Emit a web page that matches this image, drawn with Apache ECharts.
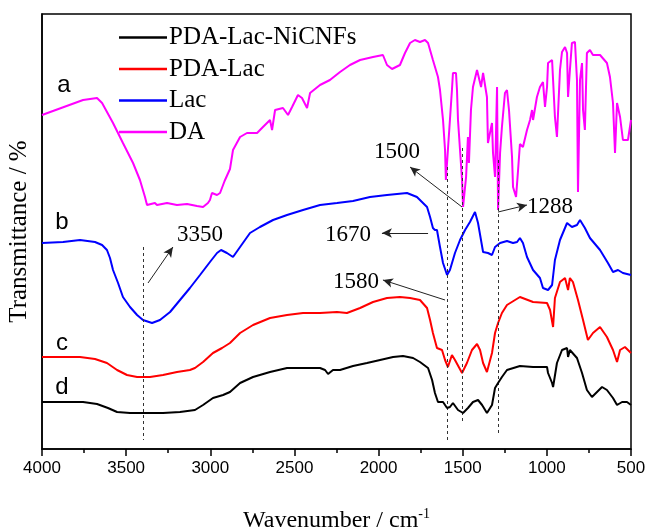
<!DOCTYPE html>
<html>
<head>
<meta charset="utf-8">
<script src="https://cdn.jsdelivr.net/npm/echarts@6/dist/echarts.min.js"></script>
<style>
  html, body { margin: 0; padding: 0; background: #fff; }
  #chart { width: 647px; height: 532px; }
</style>
</head>
<body>
<div id="chart"></div>
<script>
// spectra: [wavenumber, transmittance (arbitrary, offset per curve)]
const daSpectrum = [
  [4000, 334], [3756, 349], [3673, 351], [3643, 346], [3578, 326], [3519, 306], [3459, 286],
  [3418, 269], [3388, 252], [3376, 244], [3329, 246], [3317, 244], [3257, 246], [3198, 244],
  [3138, 245], [3079, 243], [3043, 242], [3014, 246], [3002, 249], [2990, 256], [2960, 254],
  [2942, 256], [2915, 268], [2883, 280], [2865, 299], [2823, 312], [2782, 316], [2722, 316],
  [2687, 322], [2645, 329], [2633, 319], [2615, 339], [2568, 341], [2538, 334], [2514, 342],
  [2479, 354], [2455, 351], [2425, 341], [2407, 356], [2348, 364], [2289, 369], [2229, 377],
  [2170, 384], [2110, 389], [2033, 392], [1974, 394], [1950, 384], [1920, 380], [1873, 384],
  [1843, 396], [1813, 406], [1784, 409], [1754, 407], [1724, 409], [1706, 406], [1677, 389],
  [1647, 372], [1635, 359], [1617, 329], [1605, 299], [1600, 269], [1588, 299], [1576, 329],
  [1564, 359], [1558, 376], [1540, 376], [1534, 359], [1528, 329], [1516, 299], [1504, 269],
  [1498, 242], [1480, 272], [1469, 312], [1463, 286], [1451, 339], [1439, 362], [1415, 379],
  [1409, 381], [1391, 362], [1379, 376], [1356, 352], [1350, 306], [1326, 326], [1320, 296],
  [1308, 272], [1296, 362], [1290, 239], [1278, 296], [1267, 322], [1249, 356], [1237, 359],
  [1225, 339], [1207, 292], [1201, 262], [1183, 252], [1171, 279], [1160, 305], [1142, 302],
  [1118, 319], [1100, 329], [1088, 339], [1082, 329], [1059, 352], [1041, 362], [1023, 367],
  [1011, 342], [999, 362], [993, 386], [969, 389], [963, 369], [952, 332], [940, 312],
  [922, 379], [910, 397], [892, 402], [880, 396], [874, 352], [863, 379], [851, 406],
  [833, 407], [821, 369], [815, 257], [803, 369], [791, 386], [785, 339], [774, 319],
  [762, 396], [744, 399], [726, 394], [684, 394], [643, 386], [625, 372], [607, 346],
  [595, 296], [583, 346], [565, 332], [548, 309], [518, 309], [500, 329]
];

const lacSpectrum = [
  [4000, 206], [3875, 207], [3774, 209], [3685, 207], [3643, 204], [3614, 199], [3596, 191],
  [3578, 179], [3548, 166], [3519, 152], [3477, 142], [3435, 134], [3400, 129], [3346, 126],
  [3299, 129], [3239, 137], [3180, 149], [3121, 161], [3061, 174], [3002, 187], [2960, 196],
  [2936, 199], [2901, 196], [2865, 192], [2823, 202], [2764, 216], [2705, 222], [2627, 229],
  [2544, 234], [2449, 239], [2348, 244], [2247, 246], [2152, 248], [2051, 252], [1950, 254],
  [1831, 256], [1772, 252], [1712, 242], [1694, 232], [1677, 221], [1665, 219], [1653, 219],
  [1635, 202], [1617, 186], [1593, 174], [1576, 179], [1546, 196], [1516, 209], [1486, 219],
  [1457, 227], [1427, 237], [1409, 226], [1379, 197], [1350, 196], [1326, 194], [1308, 202],
  [1278, 206], [1237, 208], [1201, 206], [1177, 207], [1160, 211], [1142, 206], [1118, 192],
  [1082, 179], [1041, 171], [1023, 161], [993, 159], [969, 164], [952, 189], [922, 209],
  [880, 226], [851, 222], [821, 224], [803, 229], [774, 221], [744, 211], [684, 199],
  [637, 186], [607, 177], [577, 179], [548, 176], [500, 174]
];

const pdaLacSpectrum = [
  [4000, 92], [3875, 92], [3774, 92], [3685, 90], [3614, 86], [3554, 79], [3495, 74],
  [3435, 72], [3358, 72], [3281, 74], [3198, 77], [3121, 79], [3091, 81], [3043, 87],
  [2984, 96], [2930, 101], [2883, 106], [2823, 116], [2746, 124], [2645, 131], [2544, 134],
  [2449, 136], [2348, 136], [2247, 137], [2188, 136], [2110, 141], [2033, 147], [1950, 151],
  [1873, 152], [1813, 151], [1754, 149], [1712, 141], [1694, 129], [1677, 116], [1653, 101],
  [1623, 99], [1605, 89], [1588, 82], [1564, 94], [1546, 89], [1504, 76], [1475, 86],
  [1445, 99], [1415, 105], [1397, 99], [1379, 86], [1356, 77], [1326, 96], [1308, 116],
  [1290, 126], [1267, 136], [1237, 144], [1160, 152], [1082, 147], [999, 146], [981, 139],
  [963, 122], [952, 151], [922, 167], [892, 171], [874, 159], [863, 171], [845, 167],
  [815, 149], [785, 129], [756, 109], [726, 116], [684, 122], [643, 112], [607, 99],
  [583, 87], [565, 99], [536, 102], [500, 96]
];

const nicnfSpectrum = [
  [4000, 47], [3875, 47], [3756, 47], [3673, 45], [3608, 41], [3554, 37], [3477, 36],
  [3376, 36], [3281, 36], [3180, 37], [3091, 39], [3043, 44], [2984, 51], [2924, 54],
  [2883, 57], [2823, 66], [2746, 72], [2645, 77], [2544, 81], [2449, 81], [2348, 81],
  [2318, 79], [2300, 75], [2271, 79], [2229, 79], [2152, 83], [2069, 86], [1991, 89],
  [1914, 92], [1855, 93], [1795, 91], [1754, 87], [1706, 81], [1682, 69], [1665, 56],
  [1647, 47], [1617, 47], [1593, 41], [1576, 42], [1558, 46], [1528, 39], [1498, 36],
  [1469, 41], [1439, 47], [1409, 49], [1385, 44], [1356, 36], [1326, 44], [1308, 61],
  [1290, 66], [1267, 72], [1237, 79], [1160, 83], [1082, 82], [999, 82], [993, 76],
  [969, 66], [963, 62], [940, 86], [910, 99], [880, 101], [874, 92], [863, 99],
  [821, 91], [791, 76], [762, 59], [732, 52], [702, 57], [672, 62], [643, 59],
  [607, 51], [583, 44], [553, 47], [524, 47], [500, 44]
];

const seriesNames = ['PDA-Lac-NiCNFs', 'PDA-Lac', 'Lac', 'DA'];
const seriesColors = ['#000000', '#ff0000', '#0000ff', '#ff00ff'];
const xRange = [500, 4000];
const xStep = 500;

// dashed guide lines: [wavenumber, yFrom, yTo]
const guideLines = [[3400, 202, 9], [1593, 282, 6], [1504, 301, 26], [1290, 289, 14]];
// arrows: [[fromX, fromY], [toX, toY]]
const arrows = [
  [[3370, 166], [3222, 202]],
  [[1706, 216], [1980, 216]],
  [[1605, 149], [1974, 169]],
  [[1504, 242], [1813, 282]],
  [[1290, 237], [1118, 244]]
];
// peak labels: [wavenumber, y, text]
const peakLabels = [[3061, 214, '3350'], [2182, 214, '1670'], [2134, 167, '1580'], [1890, 297, '1500'], [981, 242, '1288']];
// curve letters
const curveLetters = [[3869, 364, 'a'], [3881, 227, 'b'], [3881, 106, 'c'], [3881, 62, 'd']];

const serif = "'Liberation Serif', 'Times New Roman', serif";
const sans = "'Liberation Sans', Arial, sans-serif";

const chart = echarts.init(document.getElementById('chart'));

const spectra = [nicnfSpectrum, pdaLacSpectrum, lacSpectrum, daSpectrum];

const textSeries = (name, items, font, size) => ({
  name,
  type: 'scatter',
  symbol: 'circle',
  symbolSize: 0.1,
  itemStyle: { color: '#000', opacity: 1 },
  silent: true,
  data: items.map(([x, y, t]) => ({ value: [x, y], name: t })),
  label: {
    show: true, position: [0, 0], align: 'center', verticalAlign: 'middle',
    formatter: '{b}', fontFamily: font, fontSize: size, color: '#000'
  }
});

const option = {
  animation: false,
  backgroundColor: '#fff',
  grid: {
    left: 42, right: 16, top: 14, bottom: 83,
    outerBoundsMode: 'none',
    show: true, borderColor: '#000', borderWidth: 1.5
  },
  legend: {
    data: seriesNames,
    orient: 'vertical',
    left: 114,
    top: 20,
    itemWidth: 48,
    itemHeight: 2.5,
    itemGap: 6.5,
    icon: 'rect',
    textStyle: { fontFamily: serif, fontSize: 25, color: '#000', lineHeight: 25, padding: [0, 0, 0, -3] }
  },
  xAxis: {
    type: 'value',
    min: xRange[0],
    max: xRange[1],
    interval: xStep,
    inverse: true,
    name: 'Wavenumber / cm{sup|-1}',
    nameLocation: 'middle',
    nameGap: 58,
    nameTextStyle: {
      fontFamily: serif, fontSize: 24, color: '#000', lineHeight: 28,
      rich: { sup: { fontFamily: serif, fontSize: 14, verticalAlign: 'top', lineHeight: 14 } }
    },
    axisLine: { lineStyle: { color: '#000', width: 1.5 } },
    axisTick: { inside: false, length: 7, lineStyle: { color: '#000', width: 1.5 } },
    minorTick: { show: true, splitNumber: 2, length: 4, lineStyle: { color: '#000', width: 1.5 } },
    axisLabel: {
      fontFamily: sans, fontSize: 17, color: '#000', margin: 11,
      formatter: (v) => String(v)
    },
    splitLine: { show: false }
  },
  yAxis: {
    type: 'value',
    min: 0,
    max: 435,
    name: 'Transmittance / %',
    nameLocation: 'middle',
    nameGap: 10,
    nameTextStyle: { fontFamily: serif, fontSize: 25, color: '#000' },
    axisLine: { show: true, lineStyle: { color: '#000', width: 1.5 } },
    axisTick: { show: false },
    axisLabel: { show: false },
    splitLine: { show: false }
  },
  series: [
    ...seriesNames.map((name, i) => ({
      name,
      type: 'line',
      data: spectra[i],
      symbol: 'none',
      color: seriesColors[i],
      lineStyle: { width: 2, color: seriesColors[i] },
      silent: true,
      z: 2 + (3 - i)
    })),
    {
      name: 'guides',
      type: 'line',
      data: [],
      symbol: 'none',
      silent: true,
      markLine: {
        silent: true,
        symbol: ['none', 'none'],
        label: { show: false },
        lineStyle: { color: '#333', type: [3, 3], width: 1 },
        data: guideLines.map(([x, y1, y2]) => [{ coord: [x, y1] }, { coord: [x, y2] }])
      }
    },
    {
      name: 'arrows',
      type: 'line',
      data: [],
      symbol: 'none',
      silent: true,
      markLine: {
        silent: true,
        symbol: ['none', 'arrow'],
        symbolSize: [7, 10],
        label: { show: false },
        lineStyle: { color: '#222', type: 'solid', width: 1 },
        data: arrows.map(([a, b]) => [{ coord: a }, { coord: b }])
      }
    },
    textSeries('peakText', peakLabels, serif, 23),
    textSeries('letterText', curveLetters, sans, 24)
  ]
};

chart.setOption(option);
</script>
</body>
</html>
